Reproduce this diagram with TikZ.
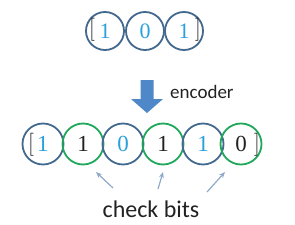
\documentclass[tikz,border=0pt]{standalone}
\usepackage{fontspec}
\newfontfamily\calib{Carlito}
\newfontfamily\digf{Liberation Serif}
\usetikzlibrary{arrows.meta}
\definecolor{cblue}{HTML}{44698F}
\definecolor{cgreen}{HTML}{1FA75A}
\definecolor{dcyan}{HTML}{2AA0DC}
\definecolor{afill}{HTML}{4E88C8}
\definecolor{aline}{HTML}{8FA9C9}
\definecolor{txt}{HTML}{222222}
\tikzset{
  bitt/.style={circle, draw=cblue, line width=1.8pt, inner sep=0pt, minimum size=38pt,
    font=\digf\fontsize{22}{22}\selectfont},
  bitb/.style={circle, line width=1.8pt, inner sep=0pt, minimum size=41pt,
    font=\digf\fontsize{23}{23}\selectfont},
  datab/.style={bitb, draw=cblue, text=dcyan},
  checkb/.style={bitb, draw=cgreen, text=txt},
  brk/.style={inner sep=0pt, text=txt, font=\fontsize{23}{23}\selectfont},
  pointer/.style={draw=aline, line width=1.2pt, -{Stealth[length=6pt,width=5pt]}},
}
\begin{document}
\begin{tikzpicture}[x=1pt,y=-1pt]
\useasboundingbox (0,0) rectangle (295,225);
% top word
\node[bitt, text=dcyan] (t1) at (105,31) {1};
\node[bitt, text=dcyan] (t2) at (145,31) {0};
\node[bitt, text=dcyan] (t3) at (184,31) {1};
\node[brk] (tl) at (92,30) {[};
\node[brk] (tr) at (198,30) {]};
% encoder arrow
\fill[afill] (140.5,80) -- (153.5,80) -- (153.5,99) -- (163,99) -- (147,113)
  -- (131,99) -- (140.5,99) -- cycle;
\node[anchor=base west, inner sep=0pt, text=txt, font=\calib\fontsize{19}{19}\selectfont]
  (enc) at (170,98) {encoder};
% codeword
\node[datab]  (b1) at (43,144) {1};
\node[checkb] (b2) at (83,144) {1};
\node[datab]  (b3) at (123,144) {0};
\node[checkb] (b4) at (163,144) {1};
\node[datab]  (b5) at (203,144) {1};
\node[checkb] (b6) at (241,144) {0};
\node[brk] (bl) at (31,145) {[};
\node[brk] (br) at (257,145) {]};
% check bits label
\node[anchor=base, inner sep=0pt, text=txt, font=\calib\fontsize{24}{24}\selectfont]
  (cb) at (151,217) {check bits};
\coordinate (s1) at (113,188);
\coordinate (s2) at (158,189);
\coordinate (s3) at (207,192);
\coordinate (e1) at (96,172);
\coordinate (e2) at (163,172);
\coordinate (e3) at (225,172);
\draw[pointer] (s1) -- (e1);
\draw[pointer] (s2) -- (e2);
\draw[pointer] (s3) -- (e3);
\end{tikzpicture}
\end{document}
